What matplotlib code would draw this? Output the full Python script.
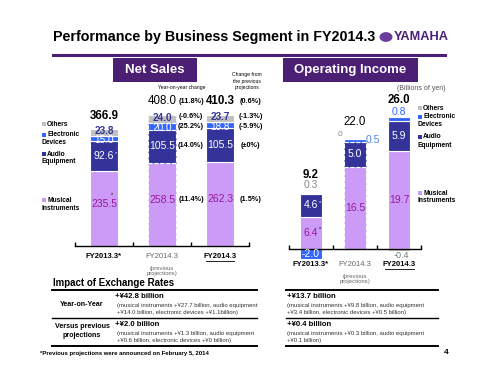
import matplotlib
matplotlib.use('Agg')
import matplotlib.pyplot as plt
from matplotlib.lines import Line2D
from matplotlib.patches import Rectangle, Circle
import numpy as np

plt.rcParams['font.family'] = ['Liberation Sans', 'DejaVu Sans']

# ---- data ----
segments = ['Musical\nInstruments', 'Audio\nEquipment', 'Electronic\nDevices', 'Others']
periods = ['FY2013.3*', 'FY2014.3', 'FY2014.3']

sales = np.array([[235.5, 258.5, 262.3],    # musical instruments
                  [92.6, 105.5, 105.5],     # audio equipment
                  [15.0, 20.0, 18.8],       # electronic devices
                  [23.8, 24.0, 23.7]])      # others
sales_total = [366.9, 408.0, 410.3]
yoy_change = ['(11.4%)', '(14.0%)', '(25.2%)', '(-0.6%)']
yoy_total = '(11.8%)'
proj_change = ['(1.5%)', '(±0%)', '(-5.9%)', '(-1.3%)']
proj_total = '(0.6%)'

income = np.array([[6.4, 16.5, 19.7],
                   [4.6, 5.0, 5.9],
                   [-2.0, 0.5, 0.8],
                   [0.3, 0.0, -0.4]])
income_total = [9.2, 22.0, 26.0]

W, H = 500, 375
MUS = '#CB9BF7'
AUD = '#333399'
ELE = '#3366FF'
OTH = '#C0C0C0'
PURPLE_TXT = '#99189F'
BOX = '#4B1F74'
colors = [MUS, AUD, ELE, OTH]

fig = plt.figure(figsize=(5, 3.75), dpi=100)
fig.patch.set_facecolor('white')


def ft(x, y, s, **kw):
    kw.setdefault('ha', 'left')
    kw.setdefault('va', 'center')
    fig.text(x / W, 1 - y / H, s, **kw)


def fline(x0, x1, y, lw=1.0, color='black'):
    fig.add_artist(Line2D([x0 / W, x1 / W], [1 - y / H, 1 - y / H],
                          transform=fig.transFigure, color=color, lw=lw))


def fbox(x0, y0, x1, y1, color):
    fig.add_artist(Rectangle((x0 / W, 1 - y1 / H), (x1 - x0) / W, (y1 - y0) / H,
                             transform=fig.transFigure, color=color, lw=0))


# ---- title ----
ft(53, 37, 'Performance by Business Segment in FY2014.3', fontsize=10.3, fontweight='bold')
fig.add_artist(Circle((386 / W, 1 - 37 / H), 6.5 / W, transform=fig.transFigure,
                      color='#6A3C9C', lw=0))
ft(394, 37, 'YAMAHA', fontsize=9.2, fontweight='bold', color='#4B1F74',
   fontstretch='condensed')
fline(53, 445, 55, lw=2.2, color='#4B1F74')

fbox(113, 58, 197, 82, BOX)
ft(155, 70, 'Net Sales', ha='center', color='white', fontsize=9.5, fontweight='bold')
fbox(283, 58, 418, 82, BOX)
ft(350, 70, 'Operating Income', ha='center', color='white', fontsize=9.5, fontweight='bold')


def stack(ax, data, width, dashed_idx):
    pos = np.zeros(data.shape[1])
    neg = np.zeros(data.shape[1])
    bottoms = np.zeros_like(data)
    for i, row in enumerate(data):
        b = np.where(row >= 0, pos, neg)
        bottoms[i] = b
        for j in range(len(row)):
            ls = '--' if j == dashed_idx else '-'
            ax.bar(j, row[j], width, bottom=b[j], color=colors[i],
                   edgecolor='white', lw=0.8, linestyle=ls)
        pos = pos + np.where(row >= 0, row, 0)
        neg = neg + np.where(row < 0, row, 0)
    return bottoms


def style_axis(ax):
    ax.set_xlim(-0.5, 2.5)
    for s in ['left', 'right', 'top']:
        ax.spines[s].set_visible(False)
    ax.spines['bottom'].set_position(('data', 0))
    ax.spines['bottom'].set_linewidth(1.0)
    ax.set_yticks([])
    ax.set_xticks([-0.5, 0.5, 1.5, 2.5])
    ax.set_xticklabels([])
    ax.tick_params(axis='x', direction='in', length=3, width=1)
    ax.patch.set_alpha(0)


# ---- net sales ----
ns_scale = 0.32  # px per unit
ax1 = fig.add_axes([75 / W, (375 - 246) / H, 174 / W, 186 / H])
ax1.set_ylim(0, 186 / ns_scale)
style_axis(ax1)
b1 = stack(ax1, sales, 0.48, 1)
for i in range(4):
    for j in range(3):
        c = sales[i, j] / 2 + b1[i, j]
        if i == 0:
            c += 15
            ax1.text(j, c, f'{sales[i, j]:.1f}', ha='center', va='center',
                     color=PURPLE_TXT, fontsize=7.5)
        elif i == 3:
            c += 5
            ax1.text(j, c, f'{sales[i, j]:.1f}', ha='center', va='center',
                     color=AUD, fontsize=7.2, fontweight='bold')
        else:
            if i == 2:
                c -= 4
            ax1.text(j, c, f'{sales[i, j]:.1f}', ha='center', va='center',
                     color='white', fontsize=7.2 if i == 2 else 7.5)
        if j == 2:
            ax1.text(1.5, c, yoy_change[i], ha='center', va='center',
                     fontsize=5.3, fontweight='bold')
            ax1.text(2.53, c, proj_change[i], ha='center',
                     va='center', fontsize=5.3, fontweight='bold')
tot_y = [406, 453, 453]
for j in range(3):
    ax1.text(j, tot_y[j], f'{sales_total[j]:.1f}', ha='center', va='center',
             fontsize=8.3, fontweight='normal' if j == 1 else 'bold')
ax1.text(1.5, tot_y[2], yoy_total, ha='center', va='center',
         fontsize=5.3, fontweight='bold')
ax1.text(2.53, tot_y[2], proj_total, ha='center', va='center',
         fontsize=5.3, fontweight='bold')
ax1.text(0.2, sales[:2, 0].sum() - 45, '*', fontsize=4, ha='center', color='white')
ax1.text(0.14, sales[0, 0] / 2 + 38, '*', fontsize=4, ha='center')

ft(182, 87, 'Year-on-year change', ha='center', fontsize=3.6)
ft(247, 81, 'Change from\nthe previous\nprojections', ha='center', fontsize=3.6,
   linespacing=1.3)

# x labels net sales
ft(104, 257, periods[0], ha='center', fontsize=5.5, fontweight='bold')
ft(162, 257, periods[1], ha='center', fontsize=5.5, color='#666666')
ft(162, 271, '(previous\nprojections)', ha='center', fontsize=4.2, color='#666666',
   linespacing=1.0)
ft(220, 257, periods[2], ha='center', fontsize=5.5, fontweight='bold')
fline(206, 234, 261, lw=0.6)

# legend net sales
leg_y = {3: [124], 2: [135, 143], 1: [154, 162], 0: [200, 208]}
for i in range(4):
    ys = leg_y[i]
    fbox(42, ys[0] - 2, 46, ys[0] + 2, colors[i])
    lines = segments[i].split('\n')
    ft(47, ys[0], lines[0], fontsize=4.8, fontweight='bold')
    if len(lines) > 1:
        ft(41, ys[1], lines[1], fontsize=4.8, fontweight='bold')

# ---- operating income ----
oi_scale = 5.0
ax2 = fig.add_axes([289 / W, (375 - 262) / H, 132 / W, 202 / H])
ax2.set_ylim(-13 / oi_scale, 189 / oi_scale)
style_axis(ax2)
b2 = stack(ax2, income, 0.48, 1)
for j in range(3):
    for i in range(2):
        c = income[i, j] / 2 + b2[i, j]
        ax2.text(j, c, f'{income[i, j]:.1f}', ha='center', va='center',
                 color=PURPLE_TXT if i == 0 else 'white', fontsize=7.5)
# electronic devices / others small labels
ax2.text(0, -1.0, '-2.0', ha='center', va='center', color='white', fontsize=7.5)
ax2.text(0, 12.8, '0.3', ha='center', va='center', color='#888888', fontsize=7.5)
ax2.text(1.4, 21.8, '0.5', ha='center', va='center', color='#4A86F0', fontsize=7.5)
ax2.text(0.66, 23.0, '0', ha='center', va='center', color='#888888', fontsize=6)
ax2.text(2, 27.4, '0.8', ha='center', va='center', color=ELE, fontsize=7.5)
ax2.text(2.05, -1.2, '-0.4', ha='center', va='center', color='#777777', fontsize=6.5)
oi_tot_y = [14.8, 25.4, 29.8]
for j in range(3):
    ax2.text(j, oi_tot_y[j], f'{income_total[j]:.1f}', ha='center', va='center',
             fontsize=8.3, fontweight='normal' if j == 1 else 'bold')
ax2.text(0.2, 9.0, '*', fontsize=4, ha='center', color='white')
ax2.text(0.2, 3.8, '*', fontsize=4, ha='center')

ft(311, 265, periods[0], ha='center', fontsize=5.5, fontweight='bold')
ft(355, 265, periods[1], ha='center', fontsize=5.5, color='#666666')
ft(355, 279, '(previous\nprojections)', ha='center', fontsize=4.2, color='#666666',
   linespacing=1.0)
ft(399, 265, periods[2], ha='center', fontsize=5.5, fontweight='bold')
fline(385, 414, 269, lw=0.6)

ft(421, 88, '(Billions of yen)', ha='center', fontsize=5, color='#555555')
leg_y2 = {3: [108], 2: [117, 125], 1: [137, 145], 0: [193, 201]}
for i in range(4):
    ys = leg_y2[i]
    fbox(418, ys[0] - 2, 422, ys[0] + 2, colors[i])
    lines = segments[i].split('\n')
    ft(423, ys[0], lines[0], fontsize=4.8, fontweight='bold')
    if len(lines) > 1:
        ft(418, ys[1], lines[1], fontsize=4.8, fontweight='bold')

# ---- exchange rate table ----
ft(53, 283, 'Impact of Exchange Rates', fontsize=7, fontweight='bold')
for y, lw in [(290, 1.4), (318, 1.0), (346, 1.4)]:
    fline(52, 257, y, lw=lw)
    fline(286, 438, y, lw=lw)
ft(82, 304, 'Year-on-Year', ha='center', fontsize=5.1, fontweight='bold')
ft(82, 331, 'Versus previous\nprojections', ha='center', fontsize=5.1, fontweight='bold',
   linespacing=1.3)
sub = dict(fontsize=4.3, color='#333333', linespacing=1.35)
ft(115, 296, '+¥42.8 billion', fontsize=5.6, fontweight='bold')
ft(117, 309, '(musical instruments +¥27.7 billion, audio equipment\n'
             '+¥14.0 billion, electronic devices +¥1.1billion)', **sub)
ft(115, 324, '+¥2.0 billion', fontsize=5.6, fontweight='bold')
ft(117, 337, '(musical instruments +¥1.3 billion, audio equipment\n'
             '+¥0.6 billion, electronic devices +¥0 billion)', **sub)
ft(287, 296, '+¥13.7 billion', fontsize=5.6, fontweight='bold')
ft(287, 309, '(musical instruments +¥9.8 billion, audio equipment\n'
             '+¥3.4 billion, electronic devices +¥0.5 billion)', **sub)
ft(287, 324, '+¥0.4 billion', fontsize=5.6, fontweight='bold')
ft(287, 337, '(musical instruments +¥0.3 billion, audio equipment\n'
             '+¥0.1 billion)', **sub)

ft(40, 353, '*Previous projections were announced on February 5, 2014', fontsize=4.3,
   fontweight='bold')
ft(446, 352, '4', ha='center', fontsize=6, fontweight='bold')

fig.savefig('out.png', dpi=100)
